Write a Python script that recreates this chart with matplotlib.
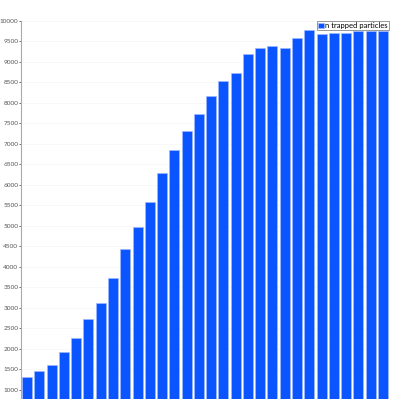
import matplotlib
matplotlib.use("Agg")
import matplotlib.pyplot as plt

# bar index and number of trapped particles
steps = list(range(1, 31))
n_trapped = [1325, 1470, 1600, 1935, 2275, 2725, 3120, 3730, 4440, 4985,
             5585, 6295, 6845, 7310, 7730, 8180, 8530, 8725, 9185, 9335,
             9400, 9350, 9585, 9780, 9675, 9715, 9715, 9765, 9750, 9765]
yticks = list(range(1000, 10001, 500))

plt.rcParams['font.family'] = ['Lato', 'DejaVu Sans']

fig = plt.figure(figsize=(4.0, 3.99), dpi=100)
ax = fig.add_axes([21/400, 0, 368/400, 1 - 21/399])

ax.bar(steps, n_trapped, width=0.82, color='#0a55ff', edgecolor='#9db8ff',
       linewidth=0.5, label='n trapped particles', zorder=2)

ax.set_xlim(0.5, 30.5)
ax.set_ylim(780, 10000)
ax.set_yticks(yticks)
ax.set_yticklabels([str(v) for v in yticks])
ax.set_xticks([])
ax.tick_params(axis='y', labelsize=4.6, colors='#555555', length=1.5, width=0.6, pad=0.5)
ax.yaxis.grid(True, color='#f7f7f7', linewidth=0.6, zorder=0)

for s in ['top', 'right', 'bottom']:
    ax.spines[s].set_visible(False)
ax.spines['left'].set_color('#aaaaaa')
ax.spines['left'].set_linewidth(0.8)

leg = ax.legend(loc='upper right', bbox_to_anchor=(1.0, 1.0), fontsize=5.5,
                frameon=True, fancybox=False, handlelength=0.8, handleheight=0.8,
                handletextpad=0.2, borderpad=0.15, borderaxespad=0.0)
leg.get_frame().set_edgecolor('#888888')
leg.get_frame().set_linewidth(0.6)
leg.get_frame().set_alpha(1)

plt.savefig('out.png', dpi=100)
